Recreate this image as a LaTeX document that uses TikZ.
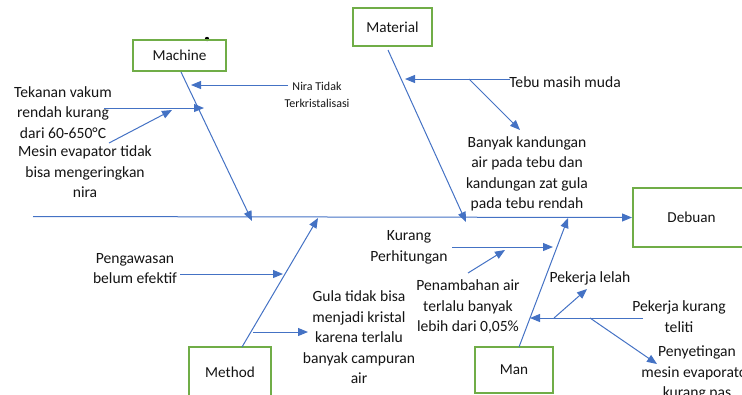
\documentclass[tikz,border=0pt]{standalone}
\usepackage{fontspec}
\setmainfont{Carlito}
\usetikzlibrary{arrows.meta}
\definecolor{lblue}{HTML}{4472C4}
\definecolor{bgreen}{HTML}{70AD47}
\definecolor{txtc}{HTML}{141414}
\begin{document}
\begin{tikzpicture}[x=0.75pt,y=-0.75pt,
  catbox/.style={draw=bgreen, line width=1.5pt, inner sep=0pt, text=txtc, font=\fontsize{11.4}{13}\selectfont},
  txt/.style={align=center, inner sep=0pt, text=txtc, font=\fontsize{11.7}{15.4}\selectfont},
  smalltxt/.style={align=center, inner sep=0pt, text=txtc, font=\fontsize{9}{12.75}\selectfont},
  bone/.style={draw=lblue, line width=0.75pt, -{Triangle[length=7.5pt,width=6pt]}},
  twig/.style={draw=lblue, line width=0.75pt}]
\useasboundingbox (0,0) rectangle (742,394);
% stray dot
\fill[black] (207,39) circle (2.2);
% category boxes
\node[catbox, minimum width=69.75pt, minimum height=23.25pt] (machine) at (179.5,55.5) {Machine};
\node[catbox, minimum width=59.25pt, minimum height=28.5pt] (material) at (392.5,27) {Material};
\node[catbox, minimum width=87.75pt, minimum height=44.25pt] (debuan) at (691.5,217.5) {Debuan};
\node[catbox, minimum width=61.5pt, minimum height=37.5pt] (method) at (230,372) {Method};
\node[catbox, minimum width=58.5pt, minimum height=34.5pt] (man) at (514,370) {Man};
% spine
\coordinate (spineL) at (33,216.5);
\draw[bone] (spineL) -- (debuan.west);
% main bones
\coordinate (machS) at (181,72);
\coordinate (machE) at (252,221);
\draw[bone] (machS) -- (machE);
\coordinate (matS) at (388,50);
\coordinate (matE) at (466,222);
\draw[bone] (matS) -- (matE);
\coordinate (methS) at (242,347);
\coordinate (methE) at (318,218);
\draw[bone] (methS) -- (methE);
\coordinate (manS) at (519,347);
\coordinate (manE) at (568,218);
\draw[bone] (manS) -- (manE);
% Machine causes
\node[smalltxt] (nira) at (317,94.5) {Nira Tidak\\Terkristalisasi};
\coordinate (niraS) at (288,85);
\coordinate (niraE) at (191,85);
\draw[bone] (niraS) -- (niraE);
\node[txt] (tekanan) at (63,112.5) {Tekanan vakum\\rendah kurang\\dari 60-650°C};
\coordinate (tekS) at (104,108);
\coordinate (tekE) at (204,108);
\draw[bone] (tekS) -- (tekE);
\node[txt] (mesin) at (85,172) {Mesin evapator tidak\\bisa mengeringkan\\nira};
\coordinate (mesS) at (109,143);
\coordinate (mesE) at (172,110);
\draw[bone] (mesS) -- (mesE);
% Material causes
\node[txt, anchor=west] (tebu) at (509,82) {Tebu masih muda};
\coordinate (tebuS) at (510,79);
\coordinate (tebuE) at (405,79);
\draw[bone] (tebuS) -- (tebuE);
\coordinate (tebuB) at (469,79);
\coordinate (banyakT) at (520,130);
\draw[bone] (tebuB) -- (banyakT);
\node[txt] (banyak) at (527,174) {Banyak kandungan\\air pada tebu dan\\kandungan zat gula\\pada tebu rendah};
% Method causes
\node[txt] (pengawasan) at (135,268.5) {Pengawasan\\belum efektif};
\coordinate (pengS) at (180,274);
\coordinate (pengE) at (283,274);
\draw[bone] (pengS) -- (pengE);
\coordinate (gulaS) at (253,332);
\coordinate (gulaE) at (308,332);
\draw[bone] (gulaS) -- (gulaE);
\node[txt] (gula) at (359,337.5) {Gula tidak bisa\\menjadi kristal\\karena terlalu\\banyak campuran\\air};
% Man causes
\node[txt] (kurang) at (409,247.5) {Kurang\\Perhitungan};
\coordinate (kurS) at (452,247);
\coordinate (kurE) at (553,247);
\draw[bone] (kurS) -- (kurE);
\node[txt] (penambahan) at (468,307) {Penambahan air\\terlalu banyak\\lebih dari 0,05\%};
\coordinate (penS) at (468,273);
\coordinate (penE) at (505,250);
\draw[bone] (penS) -- (penE);
\node[txt] (lelah) at (590,278) {Pekerja lelah};
\node[txt] (teliti) at (679,316.5) {Pekerja kurang\\teliti};
\coordinate (telS) at (643,318);
\coordinate (telE) at (530,318);
\draw[bone] (telS) -- (telE);
\coordinate (lelB) at (554,318);
\coordinate (lelE) at (587,289);
\draw[bone] (lelB) -- (lelE);
\coordinate (penyB) at (590,318);
\coordinate (penyE) at (657,364);
\draw[bone] (penyB) -- (penyE);
\node[txt] (penyetingan) at (697,373) {Penyetingan\\mesin evaporator\\kurang pas};
\end{tikzpicture}
\end{document}
